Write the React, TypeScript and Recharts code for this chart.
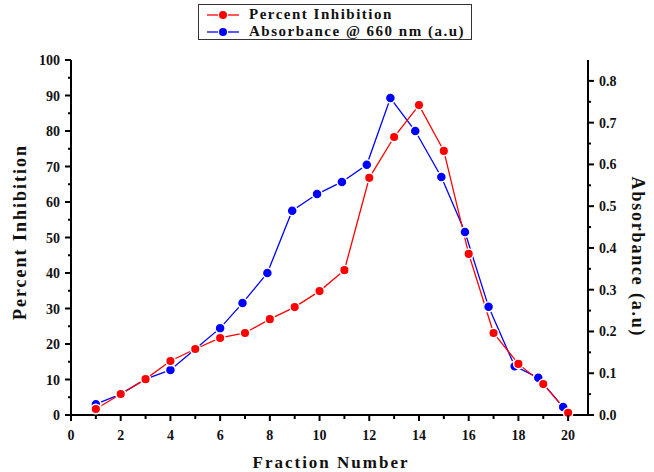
import { LineChart, Line, XAxis, YAxis } from 'recharts';

const fractions = [1, 2, 3, 4, 5, 6, 7, 8, 9, 10, 11, 12, 13, 14, 15, 16, 17, 18, 19, 20];
const inhibition = [1.7, 5.9, 10.1, 15.2, 18.6, 21.7, 23.1, 27.0, 30.4, 34.9, 40.8, 66.8, 78.3, 87.3, 74.4, 45.4, 23.1, 14.4, 8.7, 0.6];
const absorbanceX = [1, 2, 3, 4, 5, 6, 6.9, 7.9, 8.9, 9.9, 10.9, 11.9, 12.85, 13.85, 14.9, 15.85, 16.8, 17.85, 18.8, 19.8];
const absorbance = [0.026, 0.05, 0.086, 0.108, 0.158, 0.208, 0.268, 0.34, 0.489, 0.529, 0.558, 0.599, 0.759, 0.68, 0.57, 0.438, 0.259, 0.117, 0.089, 0.019];

const xTicks = [0, 1, 2, 3, 4, 5, 6, 7, 8, 9, 10, 11, 12, 13, 14, 15, 16, 17, 18, 19, 20];
const leftTicks = [0, 5, 10, 15, 20, 25, 30, 35, 40, 45, 50, 55, 60, 65, 70, 75, 80, 85, 90, 95, 100];
const rightTicks = [0, 0.05, 0.1, 0.15, 0.2, 0.25, 0.3, 0.35, 0.4, 0.45, 0.5, 0.55, 0.6, 0.65, 0.7, 0.75, 0.8];

const inhibitionData = fractions.map((f, i) => ({ x: f, y: inhibition[i] }));
const absorbanceData = absorbanceX.map((f, i) => ({ x: f, y: absorbance[i] }));

const FONT = '"Liberation Serif", "Times New Roman", serif';
const RED = '#ff0000';
const BLUE = '#0000ff';

const LeftTick = ({ x, y, payload }: any) => {
  const major = payload.value % 10 === 0;
  return (
    <g>
      <line x1={x} x2={x - (major ? 6 : 3)} y1={y} y2={y} stroke="#000" strokeWidth={2} />
      {major && (
        <text x={x - 11} y={y} dy={5} textAnchor="end" fontFamily={FONT} fontWeight="bold" fontSize={14} fill="#111">
          {payload.value}
        </text>
      )}
    </g>
  );
};

const RightTick = ({ x, y, payload }: any) => {
  const major = Math.round(payload.value * 100) % 10 === 0;
  return (
    <g>
      <line x1={x} x2={x + (major ? 6 : 3)} y1={y} y2={y} stroke="#000" strokeWidth={2} />
      {major && (
        <text x={x + 11} y={y} dy={5} textAnchor="start" fontFamily={FONT} fontWeight="bold" fontSize={14} fill="#111">
          {payload.value.toFixed(1)}
        </text>
      )}
    </g>
  );
};

const BottomTick = ({ x, y, payload }: any) => {
  const major = payload.value % 2 === 0;
  return (
    <g>
      <line x1={x} x2={x} y1={y} y2={y + (major ? 6 : 4)} stroke="#000" strokeWidth={2} />
      {major && (
        <text x={x} y={y + 25} textAnchor="middle" fontFamily={FONT} fontWeight="bold" fontSize={14} fill="#111">
          {payload.value}
        </text>
      )}
    </g>
  );
};

const Sample = ({ color }: { color: string }) => (
  <svg width={36} height={12} style={{ display: 'block', flex: 'none' }}>
    <line x1={2} x2={13} y1={6} y2={6} stroke={color} strokeWidth={1.3} />
    <line x1={23} x2={34} y1={6} y2={6} stroke={color} strokeWidth={1.3} />
    <circle cx={18} cy={6} r={4} fill={color} />
  </svg>
);

const legendItems = [
  { label: 'Percent Inhibition', color: RED },
  { label: 'Absorbance @ 660 nm (a.u)', color: BLUE },
];

export default function App() {
  return (
    <div style={{ position: 'absolute', left: 0, top: 0, width: 654, height: 472, background: '#fff' }}>
      <LineChart width={654} height={472} margin={{ top: 60, right: 0, left: 0, bottom: 0 }}>
        <XAxis
          type="number"
          dataKey="x"
          domain={[0, 20.8]}
          ticks={xTicks}
          interval={0}
          height={57}
          tickSize={0}
          tickMargin={0}
          tickLine={false}
          axisLine={{ stroke: '#000', strokeWidth: 2 }}
          tick={<BottomTick />}
        />
        <YAxis
          yAxisId="left"
          domain={[0, 100]}
          ticks={leftTicks}
          interval={0}
          width={71}
          tickSize={0}
          tickMargin={0}
          tickLine={false}
          axisLine={{ stroke: '#000', strokeWidth: 2 }}
          tick={<LeftTick />}
        />
        <YAxis
          yAxisId="right"
          orientation="right"
          domain={[0, 0.85]}
          ticks={rightTicks}
          interval={0}
          width={66}
          tickSize={0}
          tickMargin={0}
          tickLine={false}
          axisLine={{ stroke: '#000', strokeWidth: 2 }}
          tick={<RightTick />}
        />
        <Line
          yAxisId="right"
          data={absorbanceData}
          dataKey="y"
          stroke={BLUE}
          strokeWidth={1.3}
          dot={{ r: 5, fill: BLUE, stroke: '#fff', strokeWidth: 1.5 }}
          isAnimationActive={false}
        />
        <Line
          yAxisId="left"
          data={inhibitionData}
          dataKey="y"
          stroke={RED}
          strokeWidth={1.3}
          dot={{ r: 4.8, fill: RED, stroke: '#fff', strokeWidth: 1.5 }}
          isAnimationActive={false}
        />
      </LineChart>

      <div
        style={{
          position: 'absolute',
          left: 198,
          top: 4,
          width: 274,
          height: 36,
          border: '1px solid #333',
          boxSizing: 'border-box',
          padding: '1px 0 0 6px',
          fontFamily: FONT,
          fontWeight: 'bold',
          fontSize: 15,
          letterSpacing: 1.5,
          lineHeight: '17px',
          whiteSpace: 'nowrap',
          color: '#111',
        }}
      >
        {legendItems.map((it) => (
          <div key={it.label} style={{ display: 'flex', alignItems: 'center', gap: 8 }}>
            <Sample color={it.color} />
            <span>{it.label}</span>
          </div>
        ))}
      </div>

      <div
        style={{
          position: 'absolute',
          left: 20,
          top: 232,
          transform: 'translate(-50%, -50%) rotate(-90deg)',
          whiteSpace: 'nowrap',
          fontFamily: FONT,
          fontWeight: 'bold',
          fontSize: 18,
          letterSpacing: 2,
          color: '#111',
        }}
      >
        Percent Inhibition
      </div>
      <div
        style={{
          position: 'absolute',
          left: 637,
          top: 257,
          transform: 'translate(-50%, -50%) rotate(90deg)',
          whiteSpace: 'nowrap',
          fontFamily: FONT,
          fontWeight: 'bold',
          fontSize: 18,
          letterSpacing: 1.8,
          color: '#111',
        }}
      >
        Absorbance (a.u)
      </div>
      <div
        style={{
          position: 'absolute',
          left: 331,
          top: 463,
          transform: 'translate(-50%, -50%)',
          whiteSpace: 'nowrap',
          fontFamily: FONT,
          fontWeight: 'bold',
          fontSize: 17,
          letterSpacing: 2,
          color: '#111',
        }}
      >
        Fraction Number
      </div>
    </div>
  );
}
